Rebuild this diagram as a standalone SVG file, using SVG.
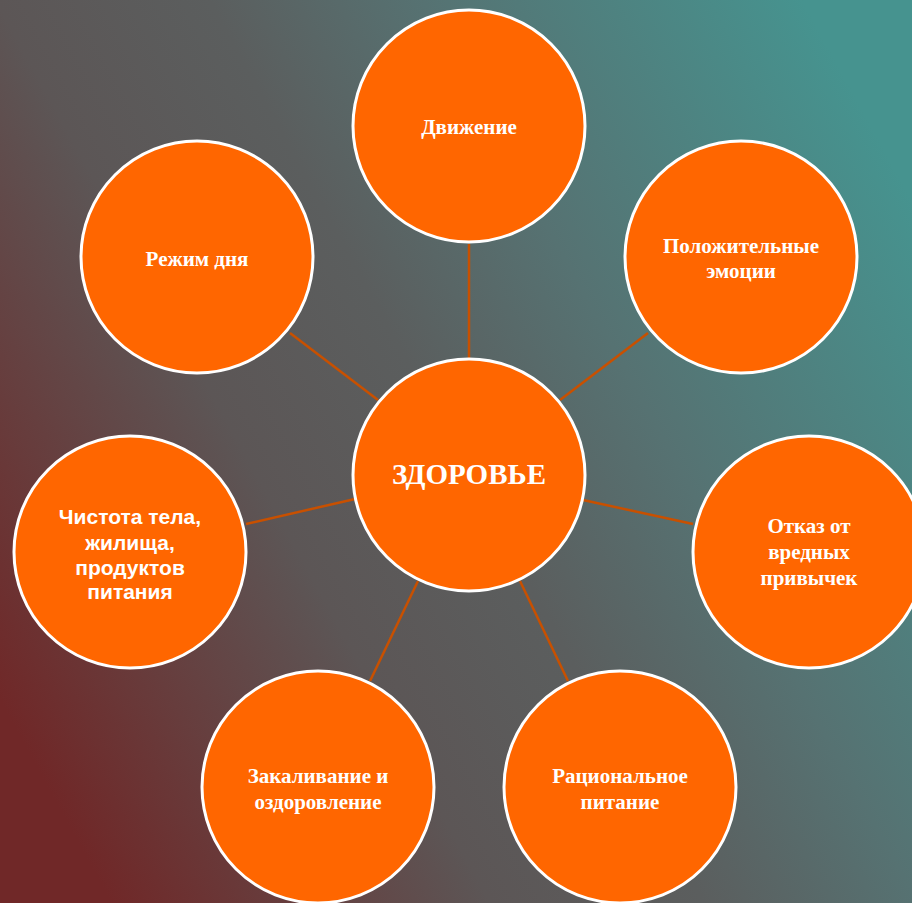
<svg xmlns="http://www.w3.org/2000/svg" width="912" height="903" viewBox="0 0 912 903">
<defs>
<linearGradient id="bg" x1="0" y1="700" x2="912" y2="200" gradientUnits="userSpaceOnUse">
<stop offset="0" stop-color="#702828"/>
<stop offset="0.32" stop-color="#5c5656"/>
<stop offset="0.5" stop-color="#5b5e5e"/>
<stop offset="0.68" stop-color="#567272"/>
<stop offset="1" stop-color="#46938f"/>
</linearGradient>
<style>
.n{fill:#ff6600;stroke:#ffffff;stroke-width:3}
.t{font-family:"Liberation Serif","Times New Roman",serif;font-weight:bold;font-size:21px;fill:#ffffff;text-anchor:middle;dominant-baseline:central}
.s{font-family:"Liberation Sans",Arial,sans-serif;font-weight:bold;font-size:21px;fill:#ffffff;text-anchor:middle;dominant-baseline:central}
.c{stroke:#c85000;stroke-width:2.5;fill:none}
</style>
</defs>
<rect width="912" height="903" fill="url(#bg)"/>
<g id="connectors">
<line class="c" x1="469" y1="244" x2="469" y2="358"/>
<line class="c" x1="290" y1="333" x2="378" y2="400"/>
<line class="c" x1="648" y1="333" x2="560" y2="400"/>
<line class="c" x1="246" y1="524" x2="355" y2="499"/>
<line class="c" x1="583" y1="500" x2="693" y2="524"/>
<line class="c" x1="370" y1="681" x2="418" y2="581"/>
<line class="c" x1="568" y1="681" x2="520" y2="581"/>
</g>
<g id="center">
<circle class="n" cx="469" cy="475" r="116"/>
<text class="t" x="469" y="474" style="font-size:29px">ЗДОРОВЬЕ</text>
</g>
<g id="dvizhenie">
<circle class="n" cx="469" cy="126" r="116"/>
<text class="t" x="469" y="127">Движение</text>
</g>
<g id="rezhim">
<circle class="n" cx="197" cy="257" r="116"/>
<text class="t" x="197" y="259">Режим дня</text>
</g>
<g id="emocii">
<circle class="n" cx="741" cy="257" r="116"/>
<text class="t" x="741" y="246">Положительные</text>
<text class="t" x="741" y="271">эмоции</text>
</g>
<g id="chistota">
<circle class="n" cx="130" cy="552" r="116"/>
<text class="s" x="130" y="516">Чистота тела,</text>
<text class="s" x="130" y="542">жилища,</text>
<text class="s" x="130" y="567">продуктов</text>
<text class="s" x="130" y="591">питания</text>
</g>
<g id="otkaz">
<circle class="n" cx="809" cy="552" r="116"/>
<text class="t" x="809" y="526">Отказ от</text>
<text class="t" x="809" y="552">вредных</text>
<text class="t" x="809" y="578">привычек</text>
</g>
<g id="zakalivanie">
<circle class="n" cx="318" cy="787" r="116"/>
<text class="t" x="318" y="776">Закаливание и</text>
<text class="t" x="318" y="802">оздоровление</text>
</g>
<g id="pitanie">
<circle class="n" cx="620" cy="787" r="116"/>
<text class="t" x="620" y="776">Рациональное</text>
<text class="t" x="620" y="802">питание</text>
</g>
</svg>
